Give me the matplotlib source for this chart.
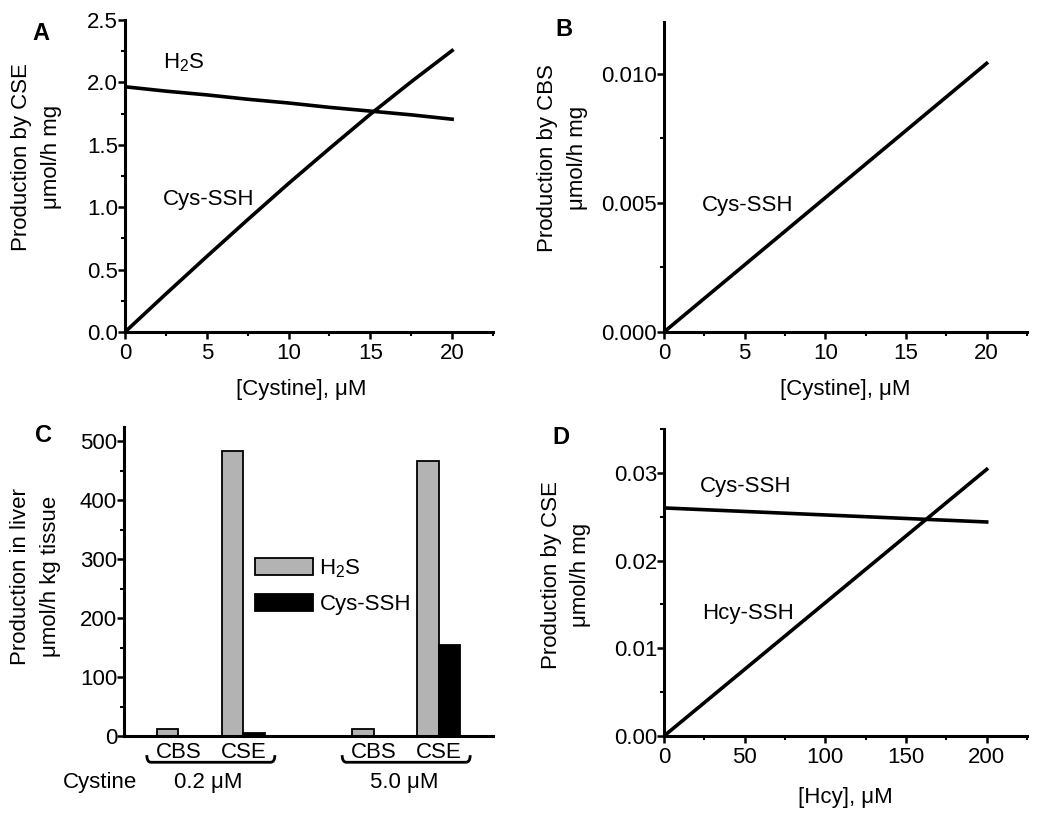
import numpy as np
import matplotlib
matplotlib.use('Agg')
import matplotlib.pyplot as plt
from matplotlib.ticker import MultipleLocator, FormatStrFormatter
from matplotlib.path import Path
from matplotlib.patches import PathPatch
import matplotlib.transforms as mtransforms

plt.rcParams['font.family'] = ['Liberation Sans', 'DejaVu Sans']
plt.rcParams['font.size'] = 16
plt.rcParams['mathtext.fontset'] = 'custom'
plt.rcParams['mathtext.rm'] = 'Liberation Sans'
plt.rcParams['mathtext.it'] = 'Liberation Sans'

# Panel A: production by CSE vs cystine
cys_a = [0, 2.5, 5, 7.5, 10, 12.5, 15, 17.5, 20]
h2s_a = [1.965, 1.93, 1.90, 1.865, 1.835, 1.80, 1.77, 1.74, 1.705]
cysssh_a = [0.0, 0.305, 0.605, 0.90, 1.19, 1.47, 1.745, 2.005, 2.255]

# Panel B: production by CBS vs cystine
cys_b = [0, 5, 10, 15, 20]
cysssh_b = [0.0, 0.0026, 0.0052, 0.0078, 0.0104]

# Panel C: production in liver
enzymes = ['CBS', 'CSE', 'CBS', 'CSE']
cystine_levels = ['0.2 \u03bcM', '5.0 \u03bcM']
h2s_c = [12, 484, 12, 467]
cysssh_c = [0, 5, 0, 155]

# Panel D: production by CSE vs Hcy
hcy_d = [0, 50, 100, 150, 200]
cysssh_d = [0.0260, 0.0256, 0.0252, 0.0248, 0.0244]
hcyssh_d = [0.0, 0.0076, 0.0152, 0.0228, 0.0304]

W, H = 1050, 815
fig = plt.figure(figsize=(W/100, H/100), dpi=100)

def px_axes(l, r, t, b):
    return fig.add_axes([l/W, 1-b/H, (r-l)/W, (b-t)/H])

axA = px_axes(125, 493, 20, 332)
axB = px_axes(664, 1027, 22, 332)
axC = px_axes(124, 493, 427, 736)
axD = px_axes(664, 1027, 429, 736)

LW = 2.6
for ax in (axA, axB, axC, axD):
    ax.spines['top'].set_visible(False)
    ax.spines['right'].set_visible(False)
    ax.spines['left'].set_linewidth(2.2)
    ax.spines['bottom'].set_linewidth(2.2)
    ax.tick_params(which='major', direction='out', length=5, width=1.8, pad=3)
    ax.tick_params(which='minor', direction='out', length=3, width=1.5)
    ax.tick_params(axis='y', which='major', pad=0)

def ylab(ax, txt, x, y):
    ax.set_ylabel(txt, linespacing=1.55, va='center')
    ax.yaxis.set_label_coords(x, y)

# A
axA.plot(cys_a, h2s_a, color='black', lw=LW)
axA.plot(cys_a, cysssh_a, color='black', lw=LW)
axA.set_xlim(0, 22.5)
axA.set_ylim(0, 2.5)
axA.xaxis.set_major_locator(MultipleLocator(5))
axA.xaxis.set_minor_locator(MultipleLocator(2.5))
axA.yaxis.set_major_locator(MultipleLocator(0.5))
axA.yaxis.set_minor_locator(MultipleLocator(0.25))
axA.yaxis.set_major_formatter(FormatStrFormatter('%.1f'))
axA.text(2.3, 2.16, 'H$_2$S', va='center')
axA.text(2.3, 1.06, 'Cys-SSH', va='center')
axA.set_xlabel('[Cystine], \u03bcM')
axA.xaxis.set_label_coords(0.48, -0.15)
ylab(axA, 'Production by CSE\n\u03bcmol/h mg', -0.24, 0.56)

# B
axB.plot(cys_b, cysssh_b, color='black', lw=LW)
axB.set_xlim(0, 22.5)
axB.set_ylim(0, 0.012)
axB.xaxis.set_major_locator(MultipleLocator(5))
axB.xaxis.set_minor_locator(MultipleLocator(2.5))
axB.yaxis.set_major_locator(MultipleLocator(0.005))
axB.yaxis.set_minor_locator(MultipleLocator(0.0025))
axB.yaxis.set_major_formatter(FormatStrFormatter('%.3f'))
axB.text(2.36, 0.0049, 'Cys-SSH', va='center')
axB.set_xlabel('[Cystine], \u03bcM')
axB.xaxis.set_label_coords(0.5, -0.15)
ylab(axB, 'Production by CBS\n\u03bcmol/h mg', -0.28, 0.56)

# C
group_centers = np.array([4.0, 13.0])
xpos = np.array([group_centers[0]-1.5, group_centers[0]+1.5,
                 group_centers[1]-1.5, group_centers[1]+1.5])
bw = 1.0
axC.bar(xpos-bw/2, h2s_c, width=bw, color='#b3b3b3', edgecolor='black',
        linewidth=1.3, label='H$_2$S')
axC.bar(xpos+bw/2, cysssh_c, width=bw, color='black', edgecolor='black',
        linewidth=1.3, label='Cys-SSH')
axC.set_xlim(0, 17)
axC.set_ylim(0, 524)
axC.set_xticks(xpos)
axC.set_xticklabels(enzymes)
axC.tick_params(axis='x', which='both', length=0, pad=4)
axC.yaxis.set_major_locator(MultipleLocator(100))
axC.yaxis.set_minor_locator(MultipleLocator(50))
axC.legend(loc='center left', bbox_to_anchor=(0.355, 0.485), frameon=False,
           handlelength=2.6, handleheight=0.82, handletextpad=0.3,
           labelspacing=0.65, borderpad=0, borderaxespad=0)
ylab(axC, 'Production in liver\n\u03bcmol/h kg tissue', -0.24, 0.515)

trans = mtransforms.blended_transform_factory(axC.transData, axC.transAxes)
for gc, lab in zip(group_centers, cystine_levels):
    x0, x1 = gc-2.95, gc+2.95
    yl, yu, r = -0.085, -0.062, 0.2
    verts = [(x0, yu), (x0, yl), (x0+r, yl), (x1-r, yl), (x1, yl), (x1, yu)]
    codes = [Path.MOVETO, Path.CURVE3, Path.CURVE3, Path.LINETO,
             Path.CURVE3, Path.CURVE3]
    axC.add_patch(PathPatch(Path(verts, codes), transform=trans, fill=False,
                            lw=2.0, color='black', clip_on=False))
    axC.text(gc-0.1, -0.15, lab, transform=trans, ha='center', va='center')
axC.text(-1.1, -0.15, 'Cystine', transform=trans, ha='center', va='center')

# D
axD.plot(hcy_d, cysssh_d, color='black', lw=LW)
axD.plot(hcy_d, hcyssh_d, color='black', lw=LW)
axD.set_xlim(0, 225)
axD.set_ylim(0, 0.035)
axD.xaxis.set_major_locator(MultipleLocator(50))
axD.xaxis.set_minor_locator(MultipleLocator(25))
axD.yaxis.set_major_locator(MultipleLocator(0.01))
axD.yaxis.set_minor_locator(MultipleLocator(0.005))
axD.yaxis.set_major_formatter(FormatStrFormatter('%.2f'))
axD.text(22.4, 0.0284, 'Cys-SSH', va='center')
axD.text(23.6, 0.0140, 'Hcy-SSH', va='center')
axD.set_xlabel('[Hcy], \u03bcM')
axD.xaxis.set_label_coords(0.5, -0.165)
ylab(axD, 'Production by CSE\n\u03bcmol/h mg', -0.27, 0.524)

# panel letters
for lab, x, y in [('A', 41, 33), ('B', 564, 30), ('C', 44, 435), ('D', 561, 438)]:
    fig.text(x/W, 1-y/H, lab, fontsize=17, fontweight='bold', ha='center', va='center')

fig.savefig('out.png', dpi=100)
